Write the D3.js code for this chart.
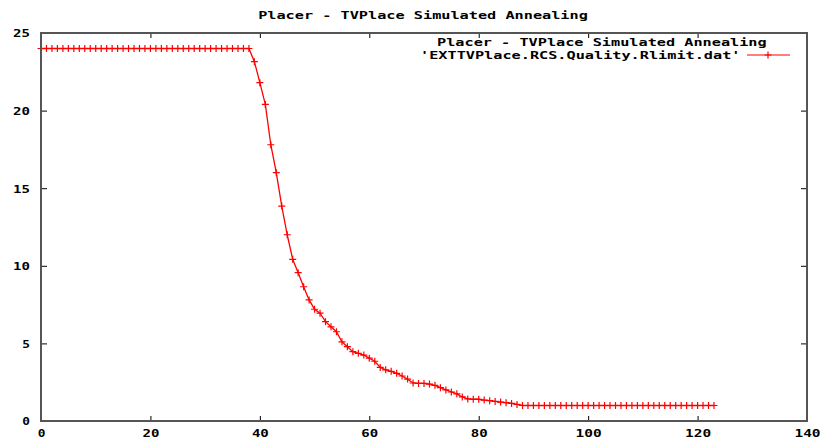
<!DOCTYPE html>
<html>
<head>
<meta charset="utf-8">
<script src="https://cdn.jsdelivr.net/npm/d3@7"></script>
<style>
  html, body { margin: 0; padding: 0; background: #fff; }
  svg { display: block; }
  text { font-family: "DejaVu Sans Mono", "Liberation Mono", monospace; font-weight: bold; font-size: 11px; fill: #000; }
</style>
</head>
<body>
<svg id="chart" width="825" height="440"></svg>
<script>
// Rlimit per annealing step (step index, rlimit value)
const steps = [
  0, 1, 2, 3, 4, 5, 6, 7, 8, 9, 10, 11, 12, 13, 14, 15, 16, 17, 18, 19,
  20, 21, 22, 23, 24, 25, 26, 27, 28, 29, 30, 31, 32, 33, 34, 35, 36, 37, 38,
  39, 40, 41, 42, 43, 44, 45, 46, 47, 48, 49, 50, 51, 52, 53, 54, 55, 56, 57, 58, 59,
  60, 61, 62, 63, 64, 65, 66, 67, 68, 69, 70, 71, 72, 73, 74, 75, 76, 77, 78, 79,
  80, 81, 82, 83, 84, 85, 86, 87, 88, 89, 90, 91, 92, 93, 94, 95, 96, 97, 98, 99,
  100, 101, 102, 103, 104, 105, 106, 107, 108, 109, 110, 111, 112, 113, 114, 115,
  116, 117, 118, 119, 120, 121, 122, 123
];
const rlimit = [
  24, 24, 24, 24, 24, 24, 24, 24, 24, 24, 24, 24, 24, 24, 24, 24, 24, 24, 24, 24,
  24, 24, 24, 24, 24, 24, 24, 24, 24, 24, 24, 24, 24, 24, 24, 24, 24, 24, 24,
  23.15, 21.8, 20.4, 17.8, 16.0, 13.85, 12.0, 10.42, 9.56, 8.65, 7.8, 7.2, 6.95, 6.4, 6.07, 5.75, 5.1, 4.79, 4.47, 4.36, 4.25,
  4.05, 3.85, 3.45, 3.3, 3.2, 3.07, 2.9, 2.7, 2.45, 2.42, 2.42, 2.38, 2.3, 2.15, 2.0, 1.87, 1.75, 1.55, 1.42, 1.4,
  1.4, 1.35, 1.31, 1.26, 1.22, 1.18, 1.13, 1.07, 1, 1, 1, 1, 1, 1, 1, 1, 1, 1, 1, 1,
  1, 1, 1, 1, 1, 1, 1, 1, 1, 1, 1, 1, 1, 1, 1, 1,
  1, 1, 1, 1, 1, 1, 1, 1
];
const xTicks = [0, 20, 40, 60, 80, 100, 120, 140];
const yTicks = [0, 5, 10, 15, 20, 25];
const chartTitle = "Placer - TVPlace Simulated Annealing";
const seriesName = "'EXTTVPlace.RCS.Quality.Rlimit.dat'";

const svg = d3.select("#chart");
const margin = { left: 41, right: 18, top: 33, bottom: 19 };
const W = 825, H = 440;
const x = d3.scaleLinear().domain([0, 140]).range([margin.left, W - margin.right]);
const y = d3.scaleLinear().domain([0, 25]).range([H - margin.bottom, margin.top]);

const frameColor = "#555555";
const red = "#ff0000";
const charW = 9.2; // wide terminal-style glyph advance

// stretch a text node to the fixed per-character advance
function wide(sel) {
  sel.each(function () {
    const t = d3.select(this);
    const n = t.text().length;
    if (n) t.attr("textLength", n * charW - 1.5).attr("lengthAdjust", "spacingAndGlyphs");
  });
  return sel;
}

// bottom axis with inward ticks
const gx = svg.append("g").attr("transform", `translate(0,${y(0)})`)
  .call(d3.axisBottom(x).tickValues(xTicks).tickFormat(d3.format("d")).tickSizeInner(-5).tickSizeOuter(0).tickPadding(8));
// top mirror ticks
const gxt = svg.append("g").attr("transform", `translate(0,${y(25)})`)
  .call(d3.axisTop(x).tickValues(xTicks).tickFormat("").tickSizeInner(-5).tickSizeOuter(0));
// left axis
const gy = svg.append("g").attr("transform", `translate(${x(0)},0)`)
  .call(d3.axisLeft(y).tickValues(yTicks).tickFormat(d3.format("d")).tickSizeInner(-6).tickSizeOuter(0).tickPadding(11));
// right mirror ticks
const gyr = svg.append("g").attr("transform", `translate(${x(140)},0)`)
  .call(d3.axisRight(y).tickValues(yTicks).tickFormat("").tickSizeInner(-6).tickSizeOuter(0));

[gx, gxt, gy, gyr].forEach(g => {
  g.select(".domain").remove();
  g.selectAll(".tick line").attr("stroke", "#000").attr("stroke-width", 1);
  g.selectAll("text").attr("font-family", null).attr("font-size", null);
});
wide(gx.selectAll(".tick text"));
wide(gy.selectAll(".tick text")).attr("dy", "0.35em");

// plot frame
svg.append("rect")
  .attr("x", x(0)).attr("y", y(25))
  .attr("width", x(140) - x(0)).attr("height", y(0) - y(25))
  .attr("fill", "none").attr("stroke", frameColor).attr("stroke-width", 2);

// title
wide(svg.append("text")
  .attr("x", 423).attr("y", 19)
  .attr("text-anchor", "middle")
  .text(chartTitle));

// key
wide(svg.append("text")
  .attr("x", 437).attr("y", 46)
  .text(chartTitle));
wide(svg.append("text")
  .attr("x", 420).attr("y", 59)
  .text(seriesName));
svg.append("line")
  .attr("x1", 747).attr("x2", 790).attr("y1", 55).attr("y2", 55)
  .attr("stroke", red).attr("stroke-width", 1.2);
const crossPath = "M-3.5,0H3.5M0,-3.5V3.5";
svg.append("path")
  .attr("d", crossPath)
  .attr("transform", "translate(768,55)")
  .attr("stroke", red).attr("stroke-width", 1.2).attr("fill", "none");

// data line and point markers
const points = steps.map((s, i) => [s, rlimit[i]]);

svg.append("path")
  .datum(points)
  .attr("fill", "none")
  .attr("stroke", red)
  .attr("stroke-width", 1.3)
  .attr("d", d3.line().x(d => x(d[0])).y(d => y(d[1])));

svg.append("g")
  .selectAll("path")
  .data(points)
  .join("path")
  .attr("d", crossPath)
  .attr("transform", d => `translate(${x(d[0])},${y(d[1])})`)
  .attr("stroke", red)
  .attr("stroke-width", 1.2)
  .attr("fill", "none");

// redraw the left edge over the markers so it stays on top
svg.append("line")
  .attr("x1", x(0)).attr("x2", x(0)).attr("y1", y(25) - 1).attr("y2", y(0) + 1)
  .attr("stroke", frameColor).attr("stroke-width", 2);
</script>
</body>
</html>
